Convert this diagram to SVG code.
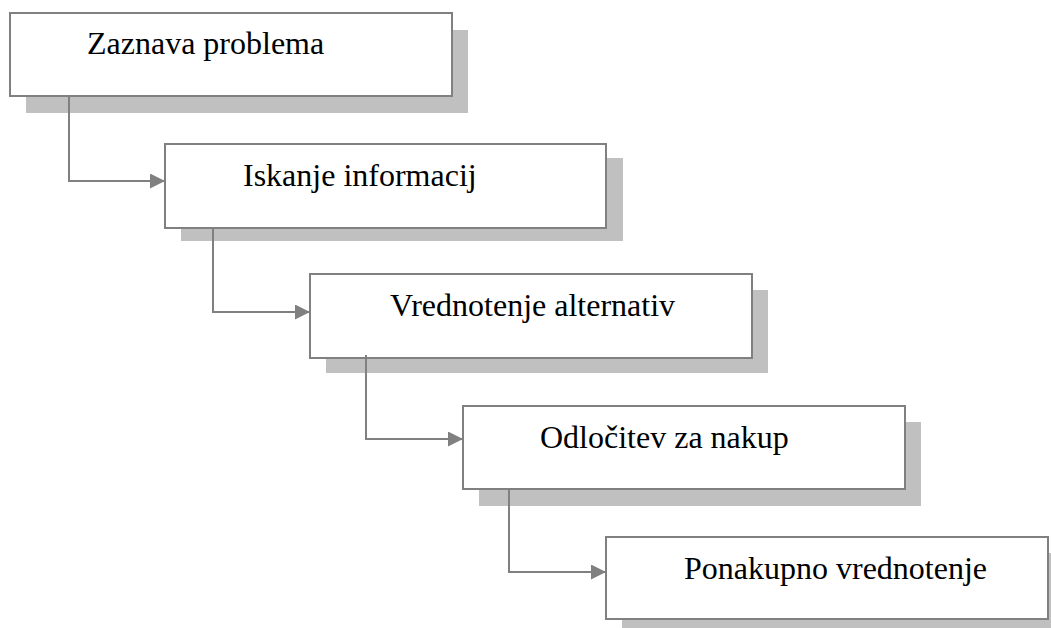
<svg xmlns="http://www.w3.org/2000/svg" width="1051" height="628" viewBox="0 0 1051 628">
  <style>
    .shadow { fill: #c0c0c0; stroke: none; }
    .box { fill: #ffffff; stroke: #808080; stroke-width: 2; }
    .label { font-family: "Liberation Serif", "Times New Roman", serif; font-size: 32px; fill: #000000; }
    .conn { fill: none; stroke: #808080; stroke-width: 2; }
  </style>
  <defs>
    <marker id="arrow" viewBox="0 0 15 15" refX="15" refY="7.5" markerWidth="15" markerHeight="15" markerUnits="userSpaceOnUse" orient="auto">
      <path d="M0,0 L15,7.5 L0,15 Z" fill="#808080"/>
    </marker>
  </defs>
  <rect width="1051" height="628" fill="#ffffff"/>

  <g id="node1">
    <rect class="shadow" x="26" y="30" width="442" height="83"/>
    <rect class="box" x="10" y="13" width="442" height="83"/>
    <text class="label" x="87" y="54">Zaznava problema</text>
  </g>
  <g id="node2">
    <rect class="shadow" x="181" y="158" width="442" height="83"/>
    <rect class="box" x="165" y="144" width="441" height="84"/>
    <text class="label" x="243" y="186">Iskanje informacij</text>
  </g>
  <g id="node3">
    <rect class="shadow" x="326" y="290" width="442" height="83"/>
    <rect class="box" x="310" y="274" width="442" height="84"/>
    <text class="label" x="390" y="316">Vrednotenje alternativ</text>
  </g>
  <g id="node4">
    <rect class="shadow" x="479" y="422" width="442" height="84"/>
    <rect class="box" x="463" y="406" width="442" height="83"/>
    <text class="label" x="540" y="448">Odločitev za nakup</text>
  </g>
  <g id="node5">
    <rect class="shadow" x="622" y="553" width="442" height="83"/>
    <rect class="box" x="606" y="537" width="442" height="82"/>
    <text class="label" x="684" y="579">Ponakupno vrednotenje</text>
  </g>

  <g id="connectors">
    <path class="conn" d="M69,96 V181 H165" marker-end="url(#arrow)"/>
    <path class="conn" d="M213,228 V312 H310" marker-end="url(#arrow)"/>
    <path class="conn" d="M366,355 V439 H463" marker-end="url(#arrow)"/>
    <path class="conn" d="M509,489 V572 H606" marker-end="url(#arrow)"/>
  </g>
</svg>
